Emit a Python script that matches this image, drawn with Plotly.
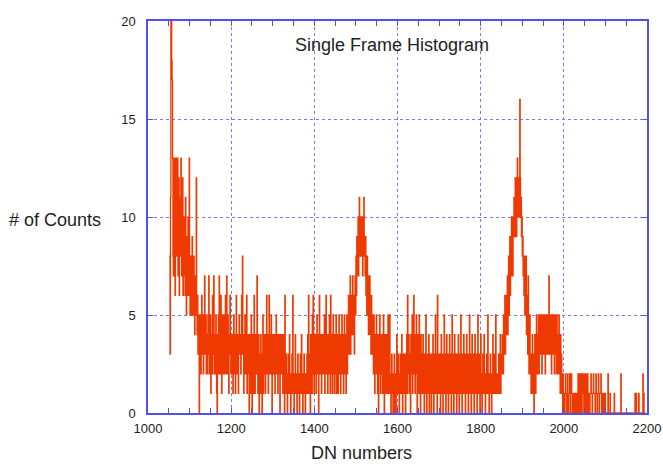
import plotly.graph_objects as go

# DN value of first histogram bin
dn_start = 1051

# counts per DN bin
counts_1051_1100 = [
    8, 8, 3, 11, 20, 20, 18, 17, 13, 8,
    7, 10, 13, 9, 6, 12, 13, 8, 11, 9, 13, 7, 10, 12, 6, 9, 11, 8, 13, 10,
    7, 9, 12, 6, 8, 10, 7, 9, 6, 11, 8, 5, 9, 7, 6, 10, 8, 6, 13, 7,
]
counts_1101_1200 = [
    5, 8, 6, 7, 5, 9, 6, 7, 5, 8, 6, 4, 7, 5, 6, 12, 5, 4, 6, 3,
    4, 5, 0, 4, 3, 5, 2, 4, 6, 3, 4, 5, 2, 4, 3, 7, 4, 3, 5, 2,
    3, 4, 2, 5, 3, 7, 4, 2, 3, 5, 1, 4, 3, 2, 6, 3, 4, 7, 2, 3,
    4, 2, 5, 3, 1, 0, 4, 3, 5, 2, 7, 3, 4, 2, 6, 3, 1, 4, 5, 2,
    3, 5, 2, 4, 3, 6, 2, 4, 7, 3, 2, 5, 4, 1, 3, 4, 6, 3, 2, 4,
]
counts_1201_1300 = [
    3, 2, 4, 1, 3, 5, 2, 4, 3, 1, 4, 6, 2, 3, 4, 2, 1, 3, 5, 4,
    3, 4, 2, 4, 6, 3, 8, 4, 3, 1, 4, 3, 5, 2, 4, 3, 6, 1, 3, 4,
    2, 3, 0, 4, 2, 1, 3, 5, 2, 0, 3, 4, 1, 2, 6, 3, 1, 2, 4, 3,
    2, 7, 3, 1, 2, 4, 0, 3, 2, 1, 4, 2, 3, 0, 2, 5, 1, 3, 2, 4,
    3, 1, 4, 2, 6, 3, 2, 4, 1, 3, 6, 2, 4, 3, 2, 5, 3, 0, 4, 2,
]
counts_1301_1400 = [
    3, 4, 2, 3, 1, 4, 2, 5, 3, 2, 4, 1, 3, 2, 4, 3, 0, 2, 4, 3,
    2, 3, 4, 1, 3, 2, 4, 0, 6, 2, 1, 3, 2, 1, 0, 2, 3, 1, 2, 4,
    1, 2, 0, 1, 2, 3, 1, 6, 2, 1, 0, 2, 1, 4, 2, 1, 2, 0, 1, 3,
    2, 1, 2, 0, 1, 3, 2, 1, 4, 1, 2, 0, 2, 1, 3, 2, 1, 0, 2, 1,
    2, 3, 1, 4, 2, 6, 1, 3, 2, 0, 4, 2, 3, 1, 5, 2, 6, 3, 1, 4,
]
counts_1401_1500 = [
    3, 2, 4, 1, 3, 5, 2, 4, 3, 0, 4, 6, 3, 2, 4, 3, 1, 4, 2, 3,
    4, 2, 3, 5, 1, 4, 3, 6, 2, 4, 3, 1, 4, 3, 2, 5, 3, 1, 6, 2,
    3, 4, 1, 3, 5, 2, 4, 1, 3, 2, 4, 5, 1, 3, 2, 4, 1, 3, 5, 2,
    4, 3, 1, 4, 2, 5, 3, 2, 4, 1, 3, 5, 4, 2, 3, 1, 4, 5, 2, 3,
    4, 6, 3, 5, 4, 7, 3, 5, 6, 4, 5, 7, 4, 6, 5, 3, 6, 7, 5, 8,
]
counts_1501_1600 = [
    6, 9, 7, 8, 10, 7, 9, 11, 8, 10, 9, 10, 8, 9, 10, 7, 9, 8, 11, 9,
    8, 7, 9, 6, 7, 5, 8, 6, 7, 4, 6, 5, 7, 4, 5, 3, 6, 4, 5, 3,
    4, 2, 5, 3, 1, 4, 2, 3, 5, 2, 4, 1, 3, 0, 4, 2, 5, 3, 1, 4,
    3, 2, 4, 1, 3, 5, 2, 0, 3, 4, 2, 1, 4, 3, 2, 1, 5, 3, 2, 1,
    5, 1, 2, 0, 1, 3, 2, 1, 0, 2, 1, 3, 0, 2, 1, 0, 2, 4, 1, 2,
]
counts_1601_1700 = [
    1, 3, 2, 0, 2, 1, 3, 2, 1, 4, 2, 0, 3, 1, 2, 3, 1, 2, 0, 3,
    2, 4, 1, 6, 3, 2, 4, 1, 3, 2, 0, 4, 3, 2, 5, 1, 3, 4, 6, 2,
    3, 1, 4, 2, 5, 3, 0, 2, 4, 3, 1, 5, 2, 3, 0, 4, 2, 1, 3, 2,
    4, 1, 2, 0, 3, 2, 1, 5, 2, 0, 1, 3, 2, 1, 4, 0, 2, 3, 1, 2,
    0, 3, 1, 2, 4, 1, 0, 2, 3, 1, 5, 2, 1, 3, 0, 6, 2, 1, 3, 2,
]
counts_1701_1800 = [
    1, 3, 0, 2, 4, 1, 2, 3, 0, 1, 2, 5, 1, 3, 2, 0, 1, 4, 2, 1,
    3, 0, 2, 1, 4, 2, 3, 1, 0, 2, 5, 1, 2, 3, 0, 1, 4, 2, 1, 3,
    2, 0, 1, 3, 2, 4, 1, 0, 2, 3, 1, 5, 2, 1, 0, 3, 2, 1, 4, 2,
    1, 3, 0, 2, 1, 4, 2, 1, 3, 0, 2, 1, 5, 2, 3, 1, 0, 2, 4, 1,
    2, 3, 1, 0, 2, 4, 1, 2, 3, 1, 0, 2, 5, 1, 2, 3, 1, 0, 2, 4,
]
counts_1801_1900 = [
    1, 2, 0, 1, 3, 2, 1, 4, 2, 1, 0, 2, 1, 3, 2, 1, 5, 2, 1, 0,
    2, 1, 3, 1, 2, 0, 1, 2, 4, 1, 2, 1, 3, 2, 1, 5, 2, 1, 2, 1,
    2, 1, 3, 2, 1, 2, 4, 1, 2, 3, 2, 4, 3, 2, 5, 3, 4, 6, 3, 5,
    4, 6, 5, 7, 4, 6, 8, 5, 7, 9, 6, 8, 7, 10, 8, 9, 7, 10, 9, 11,
    10, 9, 12, 10, 11, 9, 12, 13, 10, 11, 12, 10, 11, 16, 12, 10, 11, 9, 10, 8,
]
counts_1901_2000 = [
    9, 7, 8, 6, 8, 5, 7, 6, 8, 4, 6, 5, 3, 7, 4, 2, 3, 5, 2, 3,
    1, 3, 2, 4, 1, 2, 3, 0, 2, 4, 3, 1, 2, 5, 3, 2, 4, 3, 5, 2,
    4, 3, 5, 4, 3, 5, 2, 4, 5, 3, 4, 5, 3, 4, 2, 5, 4, 3, 5, 4,
    3, 5, 4, 7, 3, 5, 4, 3, 5, 2, 4, 5, 3, 4, 5, 3, 2, 4, 5, 3,
    4, 2, 5, 3, 4, 2, 3, 5, 2, 3, 1, 4, 2, 3, 1, 2, 0, 2, 1, 0,
]
counts_2001_2100 = [
    1, 0, 1, 2, 1, 1, 0, 1, 2, 1, 0, 1, 1, 2, 1, 0, 1, 2, 1, 1,
    0, 1, 0, 0, 1, 0, 0, 1, 0, 0, 1, 0, 1, 2, 0, 1, 2, 1, 0, 1,
    2, 1, 0, 1, 2, 1, 1, 0, 2, 1, 0, 1, 2, 0, 1, 1, 2, 0, 1, 1,
    1, 0, 1, 1, 2, 1, 1, 0, 1, 1, 2, 1, 1, 1, 0, 1, 2, 1, 1, 0,
    1, 1, 2, 1, 0, 1, 1, 1, 2, 1, 0, 1, 1, 0, 1, 0, 0, 0, 1, 0,
]
counts_2101_2196 = [
    0, 0, 0, 0, 0, 2, 0, 0, 0, 0, 1, 0, 0, 0, 0, 0, 0, 0, 0, 0,
    1, 0, 0, 0, 0, 0, 0, 0, 0, 0, 0, 0, 0, 0, 0, 0, 2, 0, 0, 0,
    0, 0, 0, 0, 0, 0, 0, 0, 0, 0, 0, 0, 0, 0, 0, 0, 0, 0, 0, 0,
    0, 0, 0, 0, 0, 0, 0, 0, 0, 0, 1, 0, 0, 1, 0, 0, 0, 0, 0, 1,
    0, 0, 0, 0, 0, 0, 0, 0, 0, 2, 0, 1, 0, 0, 0, 0,
]

counts = (counts_1051_1100 + counts_1101_1200 + counts_1201_1300 + counts_1301_1400
          + counts_1401_1500 + counts_1501_1600 + counts_1601_1700 + counts_1701_1800
          + counts_1801_1900 + counts_1901_2000 + counts_2001_2100 + counts_2101_2196)
dn = list(range(dn_start, dn_start + len(counts)))

x_tickvals = [1000, 1200, 1400, 1600, 1800, 2000, 2200]
y_tickvals = [0, 5, 10, 15, 20]

title_text = "Single Frame Histogram"
x_title = "DN numbers"
y_title = "# of Counts"

AXIS_BLUE = "#5050ee"
GRID_BLUE = "#7a7af0"
LINE_RED = "#ee3a00"
TEXT = "#222222"
FONT = "Liberation Sans, Arial, Helvetica, sans-serif"

fig = go.Figure()
fig.add_trace(go.Scatter(
    x=dn, y=counts, mode="lines",
    line=dict(color=LINE_RED, width=1.3, shape="hv"),
    showlegend=False, hoverinfo="skip",
))

axis_common = dict(
    showline=True, linecolor=AXIS_BLUE, linewidth=1.5, mirror="allticks",
    showgrid=True, gridcolor=GRID_BLUE, griddash="dot", gridwidth=1,
    ticks="inside", ticklen=5, tickcolor=AXIS_BLUE, tickwidth=1,
    zeroline=False, automargin=False,
    tickfont=dict(family=FONT, size=13, color=TEXT),
)

fig.update_xaxes(
    range=[1000, 2200], tickvals=x_tickvals, ticklabelstandoff=3,
    minor=dict(dtick=50, tick0=1000, ticks="inside", ticklen=5,
               tickcolor=AXIS_BLUE, showgrid=False),
    **axis_common,
)
fig.update_yaxes(
    range=[0, 20], tickvals=y_tickvals, ticklabelstandoff=8,
    **axis_common,
)

fig.update_layout(
    width=663, height=466,
    margin=dict(l=148, r=16, t=21, b=53),
    paper_bgcolor="white", plot_bgcolor="white",
    font=dict(family=FONT, color=TEXT),
    annotations=[
        dict(text=title_text, xref="paper", yref="paper", x=0.489, y=0.939,
             xanchor="center", yanchor="middle", showarrow=False,
             font=dict(family=FONT, size=18, color=TEXT)),
        dict(text=y_title, xref="paper", yref="paper", x=-0.186, y=0.492,
             xanchor="center", yanchor="middle", showarrow=False,
             font=dict(family=FONT, size=18, color=TEXT)),
        dict(text=x_title, xref="paper", yref="paper", x=0.427, y=-0.102,
             xanchor="center", yanchor="middle", showarrow=False,
             font=dict(family=FONT, size=18, color=TEXT)),
    ],
)

fig.write_html("out.html")
